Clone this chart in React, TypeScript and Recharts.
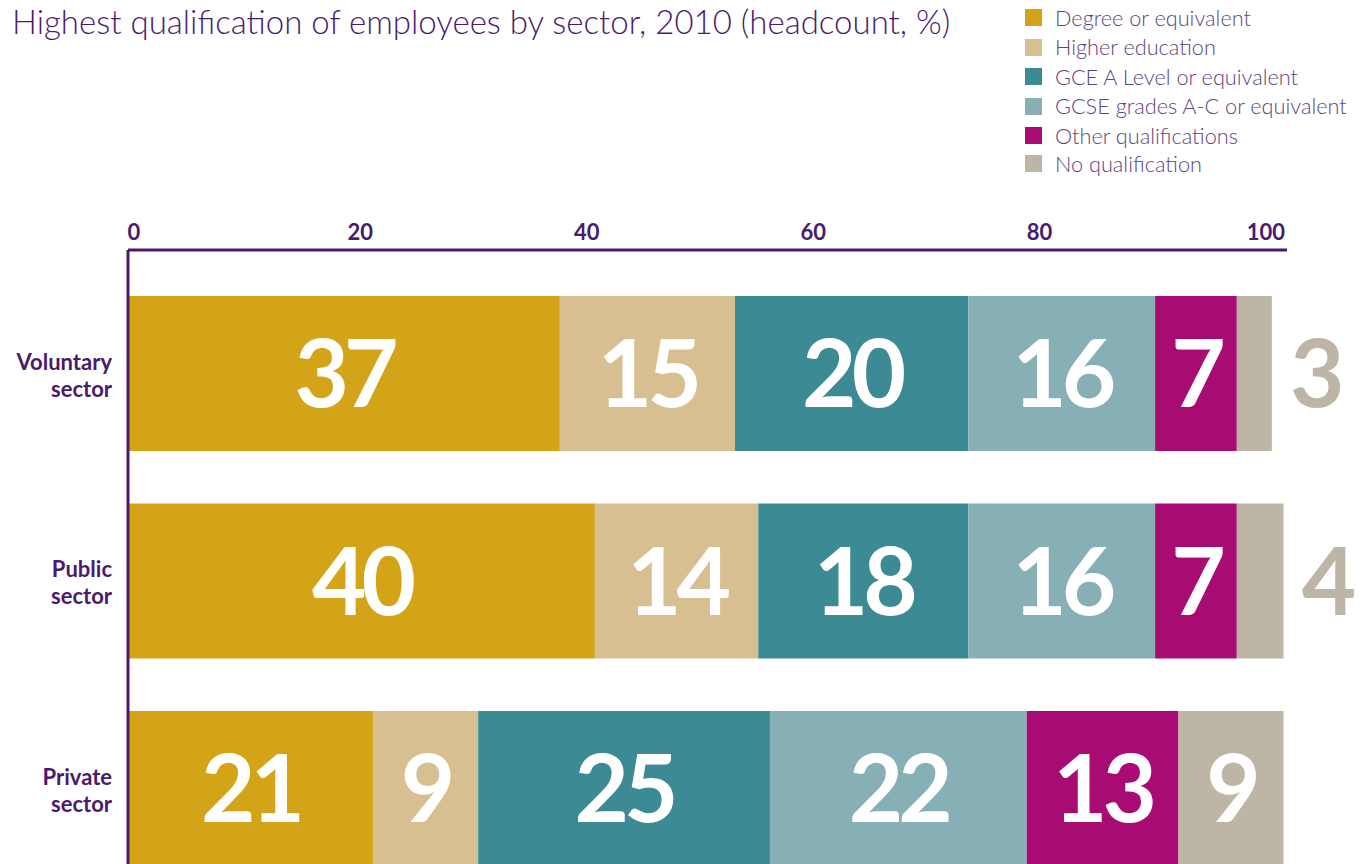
import { Bar, BarChart, LabelList, XAxis, YAxis } from "recharts";

const SECTORS = ["Voluntary sector", "Public sector", "Private sector"];
const DEGREE = [37, 40, 21];
const HIGHER_ED = [15, 14, 9];
const A_LEVEL = [20, 18, 25];
const GCSE = [16, 16, 22];
const OTHER = [7, 7, 13];
const NO_QUAL = [3, 4, 9];
const X_TICKS = [0, 20, 40, 60, 80, 100];

const SERIES = [
  { key: "degree", name: "Degree or equivalent", color: "#d4a418", values: DEGREE },
  { key: "higher", name: "Higher education", color: "#d8bf91", values: HIGHER_ED },
  { key: "alevel", name: "GCE A Level or equivalent", color: "#3b8a94", values: A_LEVEL },
  { key: "gcse", name: "GCSE grades A-C or equivalent", color: "#86b0b6", values: GCSE },
  { key: "other", name: "Other qualifications", color: "#a80b72", values: OTHER },
  { key: "none", name: "No qualification", color: "#bdb5a6", values: NO_QUAL }
];

const PURPLE = "#4a1a6e";
const FONT = "Lato, 'Open Sans', sans-serif";

const data = SECTORS.map((sector, i) => {
  const row: Record<string, string | number> = { sector };
  SERIES.forEach((s) => {
    row[s.key] = s.values[i];
  });
  return row;
});

function SectorTick({ x, y, payload }: any) {
  const words = String(payload.value).split(" ");
  return (
    <text x={x} y={y} textAnchor="end" fill={PURPLE} fontFamily={FONT} fontWeight={700} fontSize={22}>
      <tspan x={x} dy={-4}>{words[0]}</tspan>
      <tspan x={x} dy={27}>{words.slice(1).join(" ")}</tspan>
    </text>
  );
}

function makeSegmentLabel(color: string) {
  return function SegmentLabel({ x, y, width, height, value }: any) {
    const outside = width < 60;
    const cx = outside ? x + width + 43 : x + width / 2;
    return (
      <text
        x={cx}
        y={y + height / 2}
        dy="0.36em"
        textAnchor="middle"
        fill={outside ? color : "#ffffff"}
        fontFamily={FONT}
        fontWeight={700}
        fontSize={94}
        letterSpacing={-5}
      >
        {value}
      </text>
    );
  };
}

export default function App() {
  return (
    <div style={{ position: "absolute", left: 0, top: 0, width: 1360, height: 864, overflow: "hidden", background: "#fff" }}>
      <div
        style={{
          position: "absolute",
          left: 12,
          top: 1,
          fontFamily: FONT,
          fontWeight: 300,
          fontSize: 33,
          color: PURPLE,
          whiteSpace: "nowrap"
        }}
      >
        Highest qualification of employees by sector, 2010 (headcount, %)
      </div>

      <div style={{ position: "absolute", left: 1025, top: 3, fontFamily: FONT, fontWeight: 300, fontSize: 21.7, color: "#5e4580" }}>
        {SERIES.map((s, i) => (
          <div key={s.key} style={{ display: "flex", alignItems: "center", height: i === SERIES.length - 1 ? 26 : 29.5 }}>
            <span style={{ width: 17, height: 17, background: s.color, display: "inline-block", marginRight: 13 }} />
            <span>{s.name}</span>
          </div>
        ))}
      </div>

      <BarChart
        width={1360}
        height={900}
        data={data}
        layout="vertical"
        margin={{ top: 0, right: 73, bottom: 7.5, left: 0 }}
        barSize={155}
      >
        <XAxis xAxisId="v" type="number" domain={[0, 99.3]} hide allowDataOverflow />
        <XAxis
          xAxisId="t"
          type="number"
          orientation="top"
          height={250}
          domain={[-0.53, 101.86]}
          ticks={X_TICKS}
          allowDataOverflow
          tickLine={false}
          tickSize={0}
          tickMargin={10}
          axisLine={{ stroke: PURPLE, strokeWidth: 3 }}
          tick={{ fill: PURPLE, fontFamily: FONT, fontWeight: 700, fontSize: 22 }}
        />
        <YAxis
          type="category"
          dataKey="sector"
          width={128}
          padding={{ top: 20, bottom: 0 }}
          tickLine={false}
          tickSize={0}
          tickMargin={16}
          axisLine={{ stroke: PURPLE, strokeWidth: 3 }}
          tick={<SectorTick />}
        />
        {SERIES.map((s) => (
          <Bar key={s.key} dataKey={s.key} name={s.name} stackId="a" xAxisId="v" fill={s.color} isAnimationActive={false}>
            <LabelList dataKey={s.key} content={makeSegmentLabel(s.color)} />
          </Bar>
        ))}
      </BarChart>
    </div>
  );
}
